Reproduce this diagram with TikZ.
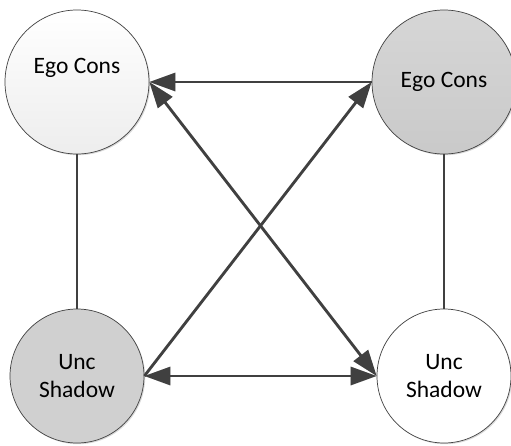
\documentclass[tikz,border=0pt]{standalone}
\usepackage{fontspec}
\setmainfont{Carlito}
\usetikzlibrary{arrows.meta,shadows}
\definecolor{lineC}{HTML}{404040}
\definecolor{shadowC}{HTML}{D9D9D9}
\definecolor{grayFill}{HTML}{D0D0D0}
\tikzset{
  state/.style={circle,draw=lineC,line width=0.7pt,inner sep=0pt,
    font=\fontsize{23.5}{28}\selectfont,align=center,text=black,
    drop shadow={shadow xshift=1.2pt,shadow yshift=-1.2pt,fill=shadowC,opacity=1}},
  big/.style={minimum size=144pt},
  small/.style={minimum size=134pt},
  conn/.style={draw=lineC,line width=2.8pt},
  connshadow/.style={draw=shadowC,line width=2.8pt,shift={(1.8,1.8)}},
  tip/.style={-{Triangle[length=26pt,width=18pt]}},
  tips/.style={{Triangle[length=26pt,width=18pt]}-{Triangle[length=26pt,width=18pt]}},
  lbl/.style={font=\fontsize{23.5}{28}\selectfont,align=center,text=black}
}
\begin{document}
\begin{tikzpicture}[x=1pt,y=-1pt]
\useasboundingbox[fill=white] (0,0) rectangle (511,445);
\node[state,big,top color=white,bottom color=black!7] (tl) at (77,82) {};
\node[lbl] (tltext) at (77,68) {Ego Cons};
\node[state,big,top color=black!16,bottom color=black!21] (tr) at (444,82) {Ego Cons};
\node[state,small,fill=grayFill] (bl) at (77,376) {Unc\\Shadow};
\node[state,small,fill=white] (br) at (444,376) {Unc\\Shadow};
% shadows of connectors
\draw[connshadow,tip] (tr.west) -- (tl.east);
\draw[connshadow,tip] (bl.east) -- (tr.west);
\draw[connshadow,tips] (tl.east) -- (br.west);
\draw[connshadow,tips] (bl.east) -- (br.west);
\draw[connshadow] (tl.south) -- (bl.north);
\draw[connshadow] (tr.south) -- (br.north);
% connectors
\draw[conn,tip] (tr.west) -- (tl.east);
\draw[conn,tip] (bl.east) -- (tr.west);
\draw[conn,tips] (tl.east) -- (br.west);
\draw[conn,tips] (bl.east) -- (br.west);
\draw[conn] (tl.south) -- (bl.north);
\draw[conn] (tr.south) -- (br.north);
\end{tikzpicture}
\end{document}
